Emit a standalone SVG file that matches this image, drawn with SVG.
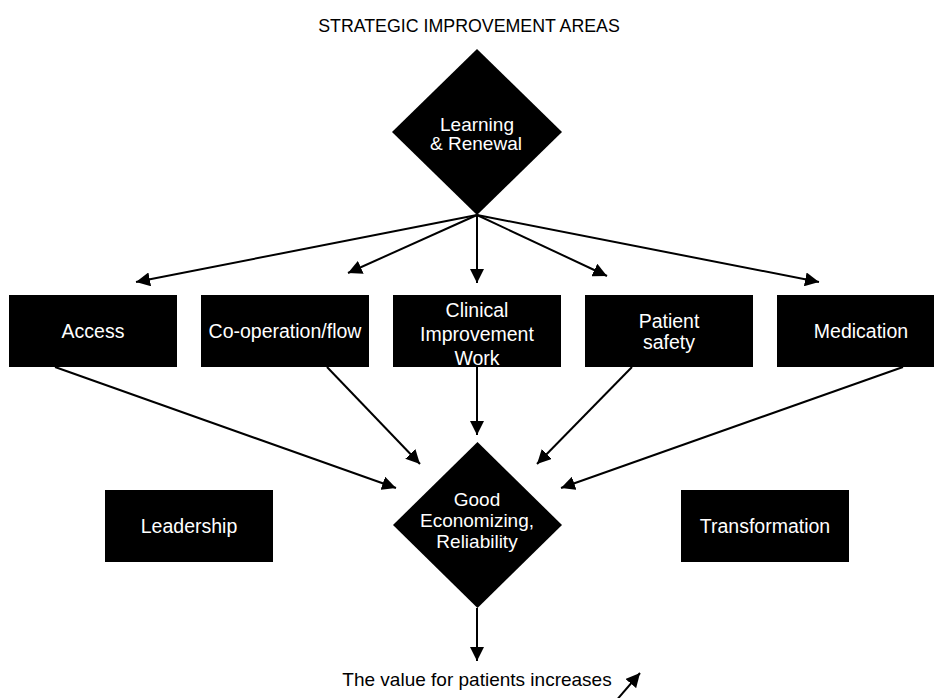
<svg xmlns="http://www.w3.org/2000/svg" width="934" height="698" viewBox="0 0 934 698">
<style>
.box{fill:#000}
.lbl{font-family:"Liberation Sans",Arial,sans-serif;font-size:19.5px;fill:#fff;text-anchor:middle}
.dl{font-family:"Liberation Sans",Arial,sans-serif;font-size:19px;fill:#fff;text-anchor:middle}
.plain{font-family:"Liberation Sans",Arial,sans-serif;fill:#000;text-anchor:middle}
.con{stroke:#000;stroke-width:2;fill:none;marker-end:url(#ah)}
</style>
<defs>
<marker id="ah" viewBox="0 0 14 14" refX="14" refY="7" markerWidth="14" markerHeight="14" markerUnits="userSpaceOnUse" orient="auto">
<path d="M0,0 L14,7 L0,14 z" fill="#000"/>
</marker>
</defs>
<rect width="934" height="698" fill="#fff"/>
<text class="plain" x="469" y="32" font-size="17.8">STRATEGIC IMPROVEMENT AREAS</text>
<g id="connectors">
<line class="con" x1="477" y1="215" x2="136" y2="282"/>
<line class="con" x1="477" y1="215" x2="348" y2="273"/>
<line class="con" x1="477" y1="215" x2="477" y2="283"/>
<line class="con" x1="477" y1="215" x2="607" y2="276"/>
<line class="con" x1="477" y1="215" x2="819" y2="282"/>
<line class="con" x1="55" y1="367" x2="396" y2="488"/>
<line class="con" x1="327" y1="367" x2="420" y2="464"/>
<line class="con" x1="477" y1="367" x2="477" y2="435"/>
<line class="con" x1="632" y1="367" x2="537" y2="464"/>
<line class="con" x1="903" y1="367" x2="561" y2="488"/>
<line class="con" x1="477" y1="608" x2="477" y2="661"/>
<line class="con" x1="615" y1="702" x2="640" y2="673"/>
</g>
<g id="learning">
<polygon points="477,49 562,132 477,215 392,132" fill="#000"/>
<text class="dl" font-size="18.5" x="477" y="131">Learning</text>
<text class="dl" font-size="18.5" x="476" y="150">&amp; Renewal</text>
</g>
<g id="access">
<rect class="box" x="9" y="295" width="168" height="72"/>
<text class="lbl" x="93" y="338">Access</text>
</g>
<g id="cooperation">
<rect class="box" x="201" y="295" width="168" height="72"/>
<text class="lbl" x="285" y="338">Co-operation/flow</text>
</g>
<g id="clinical">
<rect class="box" x="393" y="295" width="168" height="72"/>
<text class="lbl" x="477" y="317">Clinical</text>
<text class="lbl" x="477" y="341">Improvement</text>
<text class="lbl" x="477" y="365">Work</text>
</g>
<g id="patient">
<rect class="box" x="585" y="295" width="168" height="72"/>
<text class="lbl" x="669" y="328">Patient</text>
<text class="lbl" x="669" y="349">safety</text>
</g>
<g id="medication">
<rect class="box" x="777" y="295" width="168" height="72"/>
<text class="lbl" x="861" y="338">Medication</text>
</g>
<g id="leadership">
<rect class="box" x="105" y="490" width="168" height="72"/>
<text class="lbl" x="189" y="533">Leadership</text>
</g>
<g id="good">
<polygon points="477.5,442 562,525 477.5,608 393,525" fill="#000"/>
<text class="dl" x="477" y="506">Good</text>
<text class="dl" x="477" y="527">Economizing,</text>
<text class="dl" x="477" y="548">Reliability</text>
</g>
<g id="transformation">
<rect class="box" x="681" y="490" width="168" height="72"/>
<text class="lbl" x="765" y="533">Transformation</text>
</g>
<text class="plain" x="477" y="686" font-size="19">The value for patients increases</text>
</svg>
